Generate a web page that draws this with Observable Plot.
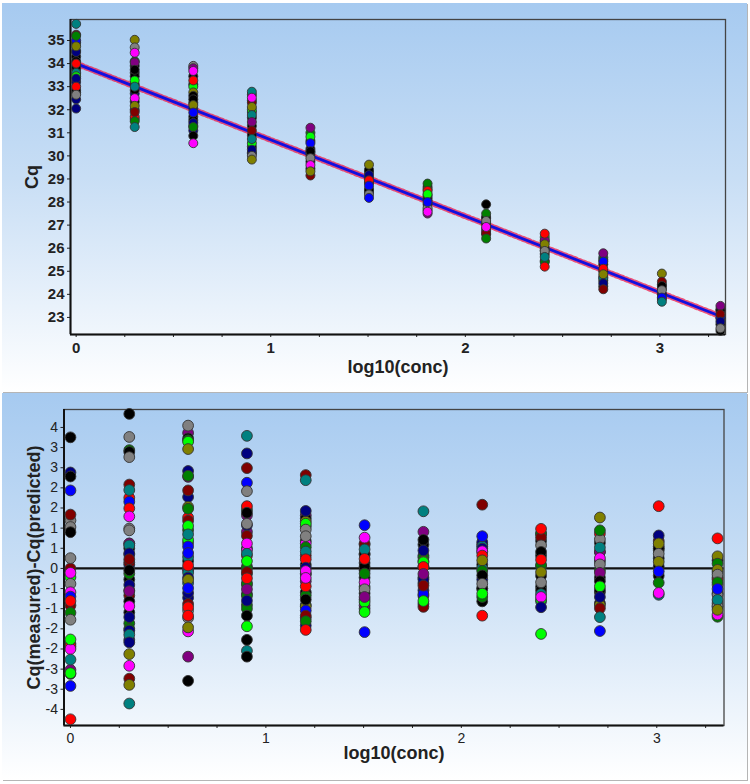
<!DOCTYPE html>
<html>
<head>
<meta charset="utf-8">
<script src="https://cdn.jsdelivr.net/npm/d3@7"></script>
<script src="https://cdn.jsdelivr.net/npm/@observablehq/plot@0.6"></script>
<style>
html,body{margin:0;padding:0;background:#fff;}
body{width:750px;height:784px;position:relative;overflow:hidden;font-family:"Liberation Sans",Arial,sans-serif;}
.panel{position:absolute;left:2px;width:745px;background:linear-gradient(#a6caf0 0%,#c8def5 45%,#ffffff 100%);box-shadow:1px 1px 0 #b5b5b5;}
#p1{top:3px;height:389px;}
#p2{top:393px;height:387px;}
svg{display:block;background:transparent !important;font-family:"Liberation Sans",Arial,sans-serif;font-weight:bold;color:#222;}
#p1 svg{font-size:15px;}
#p2 svg{font-size:14px;font-weight:normal;}
svg g[aria-label="x-axis label"] text,svg g[aria-label="y-axis label"] text{font-size:18px;font-weight:bold;}
</style>
</head>
<body>
<div class="panel" id="p1"></div>
<div class="panel" id="p2"></div>
<script>
const palette = {k:"#000000",n:"#000080",b:"#0000ff",r:"#ff0000",m:"#800000",g:"#008000",l:"#00ff00",o:"#808000",t:"#008080",p:"#800080",f:"#ff00ff",a:"#808080"};
const concentrations = [0,0.301,0.602,0.903,1.204,1.505,1.806,2.107,2.408,2.709,3.01,3.311];
const xTicks = [0,0.25,0.5,0.75,1,1.25,1.5,1.75,2,2.25,2.5,2.75,3,3.25];
const cqTicks = [23,24,25,26,27,28,29,30,31,32,33,34,35];
const residTicks = [-3.85,-3.3,-2.75,-2.2,-1.65,-1.1,-0.55,0,0.55,1.1,1.65,2.2,2.75,3.3,3.85];
const fitX = [0,3.311];
const fitY = [34,23.05];

// Cq by concentration step, with one colour key per value
const cq0  = [34.9,34.3,33.75,33.2,32.75,35.25,35.0,34.55,34.5,33.85,33.55,33.6,33.45,32.85,32.45,35.72,35.2,34.75,34.1,34.0,33.35,33.0,32.65,32.05];
const cq0c = "kkknkmbgnkotlkntgokrnran";
const cq1  = [33.9,33.6,32.7,32.35,32.0,31.6,34.1,33.45,33.1,32.85,31.7,31.5,35.03,34.7,34.47,34.05,33.73,33.27,33.0,32.5,32.17,31.9,31.25];
const cq1c = "kknkkkgkkkrgoafpkltfomt";
const cq2  = [33.45,33.1,32.3,32.05,31.7,31.55,31.1,33.9,33.8,33.0,32.75,32.6,32.45,31.3,33.68,33.27,32.2,31.88,31.43,31.25,30.87,30.55];
const cq2c = "kkknkknaplokkgfrobngkf";
const cq3  = [32.65,32.4,31.9,31.65,31.3,30.9,30.4,30.15,32.3,32.0,30.55,30.1,32.78,32.52,32.12,31.77,31.47,31.1,30.73,30.27,30.0,29.84];
const cq3c = "kkkkkkkkmllntfotpmtnao";
const cq4  = [30.65,30.05,29.75,29.45,31.0,30.3,30.15,29.15,31.22,30.83,30.55,30.2,29.9,29.6,29.33];
const cq4c = "kkkkgkkmplbkafo";
const cq5  = [29.3,29.05,28.85,28.55,28.42,29.4,28.85,28.5,29.62,29.17,28.94,28.71,28.33,28.18];
const cq5c = "kknkkkmkonrbab";
const cq6  = [28.65,28.2,27.9,27.65,28.55,28.3,28.1,27.75,27.5,28.8,28.48,28.34,28.0,27.58];
const cq6c = "kkkkokkapgrlbf";
const cq7  = [27.3,27.1,26.85,26.6,27.35,27.05,26.75,26.65,27.9,27.5,27.18,26.92,26.42];
const cq7c = "kkkkkkpmkgafg";
const cq8  = [26.3,26.0,25.75,25.45,26.48,26.35,25.9,25.4,26.63,26.17,25.88,25.62,25.2];
const cq8c = "kkkklpkgroatr";
const cq9  = [25.3,25.0,24.75,24.6,24.35,25.6,25.5,24.7,25.78,25.42,25.11,24.87,24.48,24.22];
const cq9c = "kkkkktgtpbronm";
const cq10 = [24.25,24.0,23.8,24.42,24.0,24.9,24.55,24.36,24.18,23.86,23.68];
const cq10c= "kkkknomkabt";
const cq11 = [23.35,22.95,22.7,23.3,23.0,22.42,23.5,23.14,22.82,22.53];
const cq11c= "kkkkbkpmna";

// Residual by concentration step
const re0  = [1.31,1.13,0.0,-0.24,-0.42,-0.65,-1.01,-1.21,-2.06,-2.13,-2.2,-2.77,-2.88,3.58,2.62,2.51,2.13,1.47,0.99,0.28,-0.12,-0.77,-0.89,-1.4,-1.94,-2.49,-2.86,-3.21,-4.12];
const re0c = "aamlafmgmrfpkknkbmkafbraltlbr";
const re1  = [0.55,0.1,-0.3,-0.6,-1.2,-1.5,-1.95,3.23,3.18,2.29,1.93,1.82,1.09,1.04,0.68,0.68,0.38,0.16,-0.14,-0.74,-0.9,-1.65,-1.7,3.04,4.22,3.59,2.14,1.64,1.42,0.63,0.41,0.25,-0.05,-0.45,-0.62,-1.03,-1.33,-1.81,-2.02,-2.34,-2.66,-3.01,-3.18,-3.69];
const re1c = "knkmkgngkmrbaafpnmgmkgnakatrftnmknpfntnofmot";
const re2  = [1.05,0.7,0.2,-0.05,-0.4,-0.8,-1.15,3.7,3.55,3.5,2.66,2.5,1.95,1.68,1.39,1.3,0.78,0.31,0.0,-0.12,-0.25,-0.67,-0.97,-1.35,3.9,3.46,3.26,2.53,2.13,1.63,1.16,0.93,0.6,0.42,0.08,-0.31,-0.54,-1.06,-1.29,-1.72,-1.61,-2.41,-3.07];
const re2c = "gtkntnapkgnpnormltptnnmaalogmgltbbrobrrfopk";
const re3  = [1.0,0.55,0.05,-0.15,-0.45,-0.7,-1.0,1.6,1.45,1.18,0.5,0.35,0.0,-0.1,-0.4,-0.75,-1.1,3.62,3.14,2.74,2.34,2.11,1.7,1.52,1.22,0.89,0.68,0.4,0.2,-0.27,-0.57,-0.88,-1.29,-1.58,-1.95,-2.25,-2.41];
const re3c = "pngkgkggpnfrgmgggtnmbarkamftlrpnklktk";
const re4  = [1.15,0.75,0.35,0.1,-0.15,-0.65,-1.0,-1.35,1.45,1.36,1.28,1.22,0.68,0.58,-0.15,-0.35,-0.74,-1.04,-1.15,-1.29,-1.56,2.55,1.57,1.06,0.88,0.46,0.25,0.02,-0.07,-0.49,-0.26,-0.85,-1.44,-1.68,2.41];
const re4c = "gkmkkkgnpkolfgppgobmnmnaatrnfrfkgrt";
const re5  = [0.65,0.38,0.15,-0.05,-0.25,-0.5,-0.68,-0.85,-1.1,0.68,0.4,0.05,-0.38,-1.01,-0.92,1.18,0.84,0.52,0.26,-0.14,-0.57,-0.78,-1.19,-1.74];
const re5c = "mkkkkgkngmkkfplbftrgaplb";
const re6  = [0.65,0.35,0.05,-0.25,-0.4,-0.6,-0.75,-0.97,0.3,0.2,-0.3,-0.7,-1.05,1.56,1.0,0.78,0.49,0.17,0.04,-0.15,-0.47,-0.89];
const re6c = "kngkknkmgonbmtpknlrpml";
const re7  = [0.65,0.1,-0.3,-0.55,-0.9,0.72,0.6,0.54,0.45,0.0,-0.55,-0.78,1.74,0.88,0.47,0.35,0.22,-0.07,-0.19,-0.42,-0.69,-1.29];
const re7c = "kkngkntnbtkgmbfrogkalr";
const re8  = [0.95,0.75,0.35,0.05,-0.2,-0.5,-0.9,0.95,0.85,0.1,-0.6,-0.7,-0.85,1.08,0.63,0.45,0.24,-0.1,-0.38,-0.78,-1.06,-1.79];
const re8c = "gkkgkktgmgktlrakroafnl";
const re9  = [0.7,0.45,0.2,-0.05,-0.25,-0.65,-0.95,0.95,0.8,0.45,-0.58,-1.0,1.39,1.04,0.57,0.28,0.11,-0.12,-0.35,-0.49,-0.78,-1.09,-1.33,-1.71];
const re9c = "kkkgkkkrapkoogtfapklnmtb";
const re10 = [0.6,0.5,0.28,0.05,-0.2,0.75,0.55,-0.72,1.7,0.9,0.68,0.4,0.18,-0.08,-0.39,-0.67];
const re10c= "mkkkkmktrnoaobgf";
const re11 = [0.22,-0.1,-0.25,-0.45,-0.68,-0.95,-1.05,-0.3,-0.72,-1.02,0.82,0.33,0.13,-0.04,-0.17,-0.38,-0.56,-0.86,-1.32,-1.26,-1.13];
const re11c= "ktkakatraarogoagbtgfo";

const cqCols = [[cq0,cq0c],[cq1,cq1c],[cq2,cq2c],[cq3,cq3c],[cq4,cq4c],[cq5,cq5c],[cq6,cq6c],[cq7,cq7c],[cq8,cq8c],[cq9,cq9c],[cq10,cq10c],[cq11,cq11c]];
const reCols = [[re0,re0c],[re1,re1c],[re2,re2c],[re3,re3c],[re4,re4c],[re5,re5c],[re6,re6c],[re7,re7c],[re8,re8c],[re9,re9c],[re10,re10c],[re11,re11c]];
function table(cols){
  const out=[];
  cols.forEach(([vals,keys],i)=>vals.forEach((v,j)=>out.push({x:concentrations[i],y:v,c:palette[keys[j]]})));
  return out;
}
const cqPoints = table(cqCols), rePoints = table(reCols);
const fit = fitX.map((x,i)=>({x,y:fitY[i]}));
const xFmt = d => Number.isInteger(d) ? d : "";

const topChart = Plot.plot({
  width:745,height:389,marginLeft:68,marginRight:22,marginTop:16,marginBottom:58,
  x:{domain:[-0.029,3.337],label:null},
  y:{domain:[22.26,35.91],label:null},
  color:{type:"identity"},
  marks:[
    Plot.frame({stroke:"#444",strokeWidth:1.3}),
    Plot.axisX({ticks:xTicks,tickFormat:xFmt,tickSize:3,tickPadding:5,label:"log10(conc)",labelAnchor:"center",labelArrow:"none",labelOffset:38}),
    Plot.axisY({ticks:cqTicks,tickFormat:d3.format("d"),tickSize:3,tickPadding:3,label:"Cq",labelAnchor:"center",labelArrow:"none",labelOffset:45}),
    Plot.ruleX([-0.029],{stroke:"#111",strokeWidth:2}),
    Plot.ruleY([22.26],{stroke:"#111",strokeWidth:2}),
    Plot.line(fit,{x:"x",y:"y",stroke:"#f01040",strokeWidth:6,strokeDasharray:"2,3",strokeOpacity:0.7}),
    Plot.line(fit,{x:"x",y:"y",stroke:"#1010e0",strokeWidth:2.8}),
    Plot.dot(cqPoints,{x:"x",y:"y",r:4.5,fill:"c",stroke:"#333",strokeWidth:0.9})
  ]
});
document.getElementById("p1").appendChild(topChart);

const bottomChart = Plot.plot({
  width:745,height:387,marginLeft:61.5,marginRight:23.5,marginTop:16,marginBottom:55,
  x:{domain:[-0.033,3.344],label:null},
  y:{domain:[-4.29,4.34],label:null},
  color:{type:"identity"},
  marks:[
    Plot.frame({stroke:"#444",strokeWidth:1.3}),
    Plot.axisX({ticks:xTicks,tickFormat:xFmt,tickSize:3,tickPadding:5,label:"log10(conc)",labelAnchor:"center",labelArrow:"none",labelOffset:33}),
    Plot.axisY({ticks:residTicks,tickFormat:d=>d3.format(".0f")(d).replace("−","-"),tickSize:3,tickPadding:3,label:"Cq(measured)-Cq(predicted)",labelAnchor:"center",labelArrow:"none",labelOffset:37}),
    Plot.ruleX([-0.033],{stroke:"#111",strokeWidth:2}),
    Plot.ruleY([-4.29],{stroke:"#111",strokeWidth:2}),
    Plot.ruleY([0],{stroke:"#111",strokeWidth:2.4}),
    Plot.dot(rePoints,{x:"x",y:"y",r:5.4,fill:"c",stroke:"#333",strokeWidth:0.9})
  ]
});
document.getElementById("p2").appendChild(bottomChart);
</script>
</body>
</html>
